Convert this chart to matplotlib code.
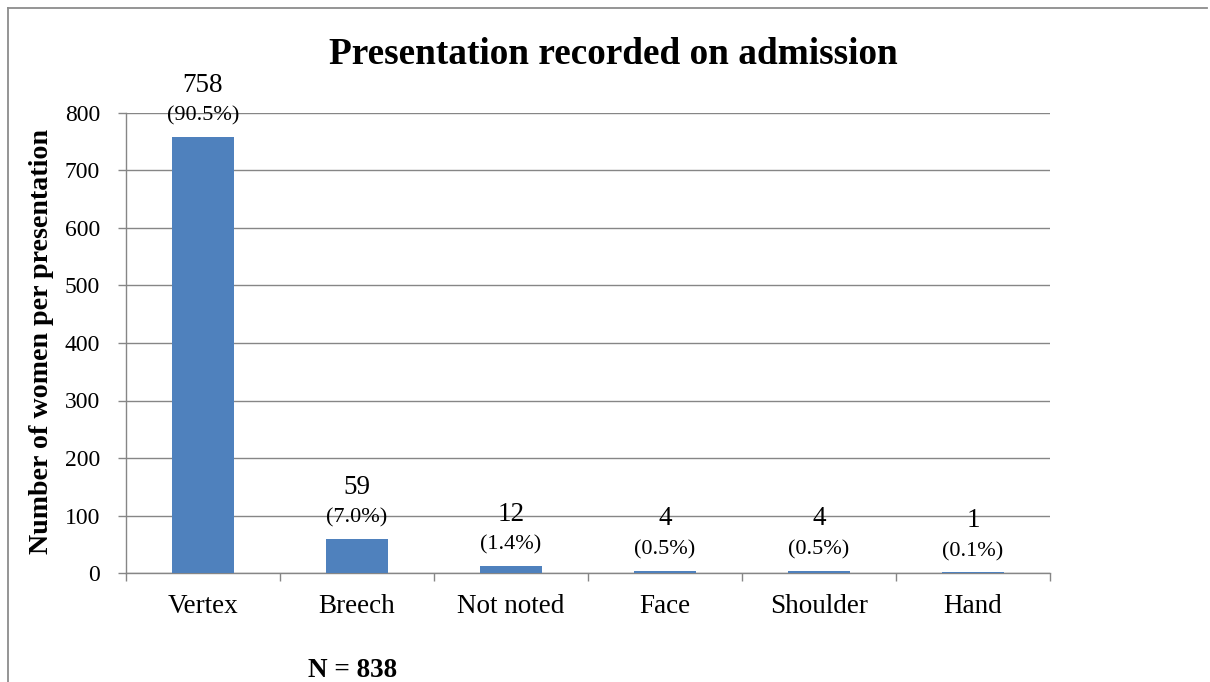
import matplotlib
matplotlib.use("Agg")
import matplotlib.pyplot as plt
from matplotlib.lines import Line2D
from matplotlib.transforms import blended_transform_factory

categories = ["Vertex", "Breech", "Not noted", "Face", "Shoulder", "Hand"]
counts = [758, 59, 12, 4, 4, 1]
percents = ["(90.5%)", "(7.0%)", "(1.4%)", "(0.5%)", "(0.5%)", "(0.1%)"]
y_ticks = [0, 100, 200, 300, 400, 500, 600, 700, 800]

plt.rcParams["font.family"] = ["Liberation Serif", "DejaVu Serif"]

W, H = 1210, 682
fig = plt.figure(figsize=(W / 100, H / 100), dpi=100)
ax = fig.add_axes([126 / W, 1 - 573 / H, (1050 - 126) / W, (573 - 113) / H])

grid_col = "#868686"
bar_col = "#4F81BD"

x = list(range(len(categories)))
ax.bar(x, counts, width=0.4, color=bar_col, zorder=3)
ax.set_xlim(-0.5, len(categories) - 0.5)
ax.set_ylim(0, 800)
ax.set_yticks(y_ticks)
ax.set_yticklabels([str(v) for v in y_ticks], fontsize=17)
ax.yaxis.grid(True, color=grid_col, lw=1.0, zorder=0)
ax.set_axisbelow(True)

# category ticks sit on the boundaries between bars
ax.set_xticks([i - 0.5 for i in range(len(categories) + 1)])
ax.set_xticklabels([])
ax.tick_params(axis="x", length=6, color=grid_col, width=1)
ax.tick_params(axis="y", length=5.8, color=grid_col, width=1, pad=13)

# category names below the axis
trans = blended_transform_factory(ax.transData, fig.transFigure)
for xi, name in zip(x, categories):
    ax.text(xi, 1 - 613 / H, name, transform=trans, ha="center", va="baseline",
            fontsize=19.5)

for s in ["top", "right"]:
    ax.spines[s].set_visible(False)
for s in ["left", "bottom"]:
    ax.spines[s].set_color(grid_col)
    ax.spines[s].set_linewidth(1.0)

for xi, c, p in zip(x, counts, percents):
    ax.annotate(str(c), (xi, c), xytext=(0, 52), textcoords="offset pixels",
                ha="center", va="center", fontsize=19.5, zorder=4)
    ax.annotate(p, (xi, c), xytext=(0, 21), textcoords="offset pixels",
                ha="center", va="center", fontsize=16, zorder=4)

fig.text(42 / W, 1 - 342 / H, "Number of women per presentation", rotation=90,
         ha="center", va="center", fontsize=20.2, fontweight="bold")

fig.text(613 / W, 1 - 64 / H, "Presentation recorded on admission",
         ha="center", va="baseline", fontsize=26.8, fontweight="bold")
fig.text(353 / W, 1 - 677 / H, "N = 838", ha="center", va="baseline",
         fontsize=19.5, fontweight="bold")

# outer frame (left and top edges)
frame_col = "#8c8c8c"
fig.add_artist(Line2D([8 / W, 8 / W], [0, 1 - 8 / H], color=frame_col, lw=1.3,
                      transform=fig.transFigure))
fig.add_artist(Line2D([8 / W, 1207 / W], [1 - 8 / H, 1 - 8 / H], color=frame_col, lw=1.3,
                      transform=fig.transFigure))

fig.savefig("out.png", dpi=100)
